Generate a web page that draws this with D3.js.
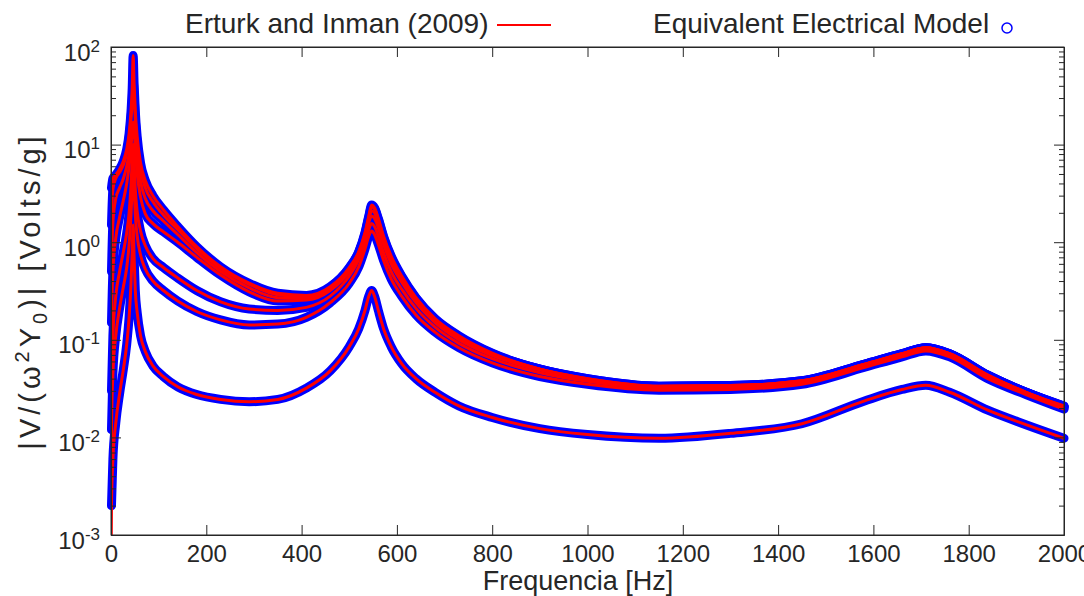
<!DOCTYPE html>
<html>
<head>
<meta charset="utf-8">
<title>Voltage FRF - Erturk and Inman vs equivalent electrical model</title>
<style>
    body { margin: 0; background: #fff; }
    text { font-family: "Liberation Sans", Arial, Helvetica, sans-serif; fill: #262626; }
    .axis path, .axis line { stroke: #262626; stroke-width: 1; }
</style>
<script src="https://cdn.jsdelivr.net/npm/d3@7"></script>
</head>
<body>
<script>
// frequency grid [Hz] shared by every curve
var freq = [0.3, 1, 4, 10, 18, 26, 33, 38, 42, 44.5, 46.5, 48.5, 51, 55, 62, 72, 88, 110, 140, 180,
    230, 290, 350, 410, 460, 500, 520, 533, 541, 547, 553, 561, 572, 588, 610, 640, 680, 730, 800, 900,
    1000, 1150, 1300, 1450, 1580, 1660, 1710, 1760, 1840, 1920, 2000];

// |V/(w^2 Y0)| [V/g], one array per load resistance (lowest to highest)
var load1 = [0.0006, 0.002, 0.006, 0.014, 0.028, 0.05, 0.09, 0.17, 0.38, 0.8, 1.5, 0.7, 0.32, 0.19, 0.11, 0.076, 0.054, 0.042, 0.033, 0.0275,
    0.0245, 0.0232, 0.0245, 0.032, 0.048, 0.085, 0.13, 0.2, 0.28, 0.32, 0.28, 0.2, 0.13, 0.085, 0.057, 0.04, 0.029, 0.021, 0.016, 0.0123,
    0.0107, 0.0098, 0.011, 0.0138, 0.0235, 0.031, 0.0342, 0.029, 0.019, 0.0135, 0.0098];
var load2 = [0.004, 0.012, 0.045, 0.11, 0.21, 0.35, 0.55, 0.95, 1.9, 3.8, 6, 3.5, 1.9, 1.15, 0.74, 0.53, 0.4, 0.32, 0.25, 0.195,
    0.16, 0.142, 0.145, 0.17, 0.24, 0.38, 0.56, 0.85, 1.15, 1.3, 1.2, 0.95, 0.65, 0.42, 0.28, 0.18, 0.12, 0.083, 0.058, 0.042,
    0.035, 0.0305, 0.031, 0.035, 0.052, 0.067, 0.077, 0.067, 0.04, 0.0275, 0.0195];
var load3 = [0.01, 0.03, 0.11, 0.28, 0.5, 0.8, 1.25, 2.0, 3.8, 7, 10, 6.5, 3.5, 2.05, 1.3, 0.92, 0.68, 0.55, 0.43, 0.32,
    0.245, 0.207, 0.2, 0.215, 0.28, 0.45, 0.67, 1.0, 1.35, 1.55, 1.45, 1.15, 0.78, 0.5, 0.33, 0.21, 0.135, 0.092, 0.064, 0.046,
    0.0375, 0.032, 0.0325, 0.0365, 0.054, 0.07, 0.081, 0.07, 0.042, 0.0285, 0.02];
var load4 = [0.05, 0.15, 0.5, 1.1, 1.8, 2.7, 4.0, 6.0, 9.5, 14, 17, 14, 9, 5, 2.9, 1.95, 1.55, 1.28, 1.0, 0.7,
    0.46, 0.31, 0.25, 0.255, 0.32, 0.5, 0.74, 1.12, 1.6, 1.85, 1.75, 1.4, 0.95, 0.6, 0.39, 0.24, 0.15, 0.1, 0.069, 0.049,
    0.039, 0.033, 0.0335, 0.0375, 0.0555, 0.0715, 0.0825, 0.0715, 0.043, 0.029, 0.0205];
var load5 = [0.17, 0.5, 1.6, 2.8, 3.6, 4.5, 6, 8, 11, 14, 16, 15, 12, 7.5, 4.2, 2.8, 2.1, 1.65, 1.2, 0.78,
    0.5, 0.34, 0.27, 0.265, 0.335, 0.52, 0.77, 1.18, 1.72, 2.1, 2.0, 1.55, 1.05, 0.65, 0.42, 0.255, 0.158, 0.105, 0.071, 0.05,
    0.0395, 0.0333, 0.0338, 0.0378, 0.0558, 0.0718, 0.0828, 0.0718, 0.0432, 0.029, 0.0207];
var load6 = [0.6, 1.5, 3.5, 4.5, 5.2, 6.2, 8.2, 11.5, 18, 28, 45, 32, 18, 10, 5.6, 3.6, 2.6, 1.9, 1.35, 0.86,
    0.54, 0.37, 0.29, 0.277, 0.345, 0.54, 0.79, 1.22, 1.8, 2.3, 2.2, 1.7, 1.12, 0.7, 0.44, 0.265, 0.162, 0.108, 0.072, 0.05,
    0.04, 0.0335, 0.034, 0.038, 0.056, 0.072, 0.083, 0.072, 0.0435, 0.029, 0.0208];
var load7 = [2.0, 3.6, 4.5, 4.9, 5.6, 6.8, 9, 13, 22, 38, 82, 42, 22, 12, 6.5, 4.3, 3.0, 2.15, 1.45, 0.9,
    0.56, 0.38, 0.3, 0.285, 0.35, 0.55, 0.8, 1.25, 1.85, 2.4, 2.25, 1.75, 1.15, 0.72, 0.45, 0.27, 0.165, 0.11, 0.073, 0.05,
    0.04, 0.0335, 0.034, 0.038, 0.056, 0.072, 0.083, 0.072, 0.0435, 0.029, 0.021];

var loads = [load1, load2, load3, load4, load5, load6, load7];

var xTicks = [0, 200, 400, 600, 800, 1000, 1200, 1400, 1600, 1800, 2000];
var yExponents = [-3, -2, -1, 0, 1, 2];

// set the dimensions and margins of the graph
var margin = { top: 47, right: 20, bottom: 61, left: 111 };
var width = 1084 - margin.left - margin.right,
    height = 596 - margin.top - margin.bottom;

var x = d3.scaleLinear().domain([0, 2000]).range([0, width]);
var y = d3.scaleLog().domain([1e-3, 1e2]).range([height, 0]);

var svgRoot = d3.select('body').append('svg')
    .attr('width', 1084)
    .attr('height', 596);

svgRoot.append('defs').append('clipPath')
    .attr('id', 'plotclip')
    .append('rect')
    .attr('width', width)
    .attr('height', height);

var svg = svgRoot.append('g')
    .attr('transform', 'translate(' + margin.left + ',' + margin.top + ')');

var line = d3.line()
    .x(function(d) { return x(d[0]); })
    .y(function(d) { return y(d[1]); })
    .curve(d3.curveMonotoneX);

function pairs(values) {
    return values.map(function(v, i) { return [freq[i], v]; });
}

// equivalent electrical model: dense circle markers, drawn as a wide blue band
svg.append('g').selectAll('path')
    .data(loads)
    .enter().append('path')
    .attr('d', function(d) { return line(pairs(d).filter(function(p) { return p[0] >= 1; })); })
    .attr('fill', 'none')
    .attr('stroke', '#0000ff')
    .attr('stroke-width', 9)
    .attr('stroke-linecap', 'round')
    .attr('stroke-linejoin', 'round');

// Erturk and Inman (2009): red lines
svg.append('g')
    .attr('clip-path', 'url(#plotclip)')
    .selectAll('path')
    .data(loads)
    .enter().append('path')
    .attr('d', function(d) { return line(pairs(d)); })
    .attr('fill', 'none')
    .attr('stroke', '#ff0000')
    .attr('stroke-width', 3)
    .attr('stroke-linejoin', 'round');

// box
svg.append('rect')
    .attr('width', width)
    .attr('height', height)
    .attr('fill', 'none')
    .attr('stroke', '#262626')
    .attr('stroke-width', 1);

// x axes (bottom with labels, top ticks only)
var xBottom = svg.append('g')
    .attr('class', 'axis')
    .attr('transform', 'translate(0,' + height + ')')
    .call(d3.axisBottom(x).tickValues(xTicks).tickSize(-10).tickSizeOuter(0).tickPadding(10).tickFormat(d3.format('d')));
xBottom.selectAll('text')
    .attr('font-size', 24)
    .attr('font-family', null)
    .attr('fill', '#262626');

svg.append('g')
    .attr('class', 'axis')
    .call(d3.axisTop(x).tickValues(xTicks).tickSize(-10).tickSizeOuter(0).tickFormat(''));

// y axes: major decade ticks, minor ticks, 10^n labels
var yMajor = yExponents.map(function(e) { return Math.pow(10, e); });
var yMinor = [];
yExponents.slice(0, -1).forEach(function(e) {
    for (var m = 2; m <= 9; m++) yMinor.push(m * Math.pow(10, e));
});

var yLeft = svg.append('g')
    .attr('class', 'axis')
    .call(d3.axisLeft(y).tickValues(yMajor).tickSize(-10).tickSizeOuter(0).tickFormat(''));
svg.append('g')
    .attr('class', 'axis')
    .attr('transform', 'translate(' + width + ',0)')
    .call(d3.axisRight(y).tickValues(yMajor).tickSize(-10).tickSizeOuter(0).tickFormat(''));
svg.append('g')
    .attr('class', 'axis')
    .call(d3.axisLeft(y).tickValues(yMinor).tickSize(-5).tickSizeOuter(0).tickFormat(''));
svg.append('g')
    .attr('class', 'axis')
    .attr('transform', 'translate(' + width + ',0)')
    .call(d3.axisRight(y).tickValues(yMinor).tickSize(-5).tickSizeOuter(0).tickFormat(''));

yLeft.selectAll('.tick').each(function(d) {
    var t = d3.select(this).append('text')
        .attr('x', -11)
        .attr('y', 13)
        .attr('text-anchor', 'end')
        .attr('font-size', 24);
    t.append('tspan').text('10');
    t.append('tspan')
        .attr('font-size', 17)
        .attr('dy', -9)
        .text(Math.round(Math.log10(d)));
});

// axis labels
svgRoot.append('text')
    .attr('x', 578)
    .attr('y', 590)
    .attr('text-anchor', 'middle')
    .attr('font-size', 27)
    .text('Frequencia [Hz]');

var yLab = svgRoot.append('text')
    .attr('transform', 'translate(40,' + (margin.top + height / 2) + ') rotate(-90)')
    .attr('text-anchor', 'middle')
    .attr('font-size', 29)
    .attr('letter-spacing', 4);
yLab.append('tspan').text('|V/(\u03c9');
yLab.append('tspan').attr('font-size', 20).attr('dy', -11).text('2');
yLab.append('tspan').attr('dy', 11).text('Y');
yLab.append('tspan').attr('font-size', 20).attr('dy', 7).text('0');
yLab.append('tspan').attr('dy', -7).text(')| [Volts/g]');

// legend
var legend = svgRoot.append('g');
legend.append('text')
    .attr('x', 185)
    .attr('y', 33)
    .attr('font-size', 28)
    .text('Erturk and Inman (2009)');
legend.append('line')
    .attr('x1', 497).attr('x2', 551)
    .attr('y1', 25).attr('y2', 25)
    .attr('stroke', '#ff0000')
    .attr('stroke-width', 2);
legend.append('text')
    .attr('x', 653)
    .attr('y', 33)
    .attr('font-size', 28)
    .text('Equivalent Electrical Model');
legend.append('circle')
    .attr('cx', 1007).attr('cy', 28)
    .attr('r', 5)
    .attr('fill', 'none')
    .attr('stroke', '#0000ff')
    .attr('stroke-width', 1.5);
</script>
</body>
</html>
